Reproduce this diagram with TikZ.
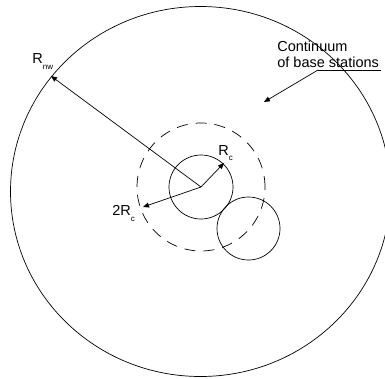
\documentclass[tikz,border=0pt]{standalone}
\usepackage{fontspec}
\setmainfont{Liberation Sans}
\usetikzlibrary{arrows.meta}
\begin{document}
\begin{tikzpicture}[x=1pt,y=-1pt, line width=0.7pt,
  arr/.style={-{Triangle[length=6pt,width=5pt]}},
  lbl/.style={anchor=base west, inner sep=0pt, font=\fontsize{14.5}{16}\selectfont},
  ring/.style={circle, draw, inner sep=0pt, outer sep=0pt},
  subs/.style={}
  ]
\useasboundingbox (0,0) rectangle (385,378);
\clip (0,0) rectangle (385,378);
% network area
\coordinate (E) at (200.5,191.5);
\draw (E) ellipse [x radius=190, y radius=185];
% cells
\coordinate (O) at (201,187);
\node[ring, minimum size=64pt] (cc) at (O) {};
\node[ring, minimum size=63pt] (nc) at (248.5,228.5) {};
\node[ring, dash pattern=on 11pt off 8pt, minimum size=128pt] (dc) at (O) {};
% radii
\coordinate (pnw) at (51,76);
\coordinate (prc) at (224,163);
\coordinate (p2rc) at (143,207);
\draw[arr] (O) -- (pnw);
\draw[arr] (O) -- (prc);
\draw[arr] (O) -- (p2rc);
% labels
\node[lbl] (lnw) at (32,63) {R\raisebox{-6pt}{\fontsize{8}{8}\selectfont nw}};
\node[lbl] (lrc) at (218,155) {R\raisebox{-5pt}{\fontsize{8}{8}\selectfont c}};
\node[lbl] (l2rc) at (112,215) {2R\raisebox{-6pt}{\fontsize{8}{8}\selectfont c}};
\node[lbl] (cont1) at (277,51) {Continuum};
\node[lbl] (cont2) at (277,67) {of base stations};
% pointer
\coordinate (u1) at (318,70);
\coordinate (u2) at (381,70);
\coordinate (pc) at (264,102);
\draw (u1) -- (u2);
\draw[arr] (u1) -- (pc);
\end{tikzpicture}
\end{document}
